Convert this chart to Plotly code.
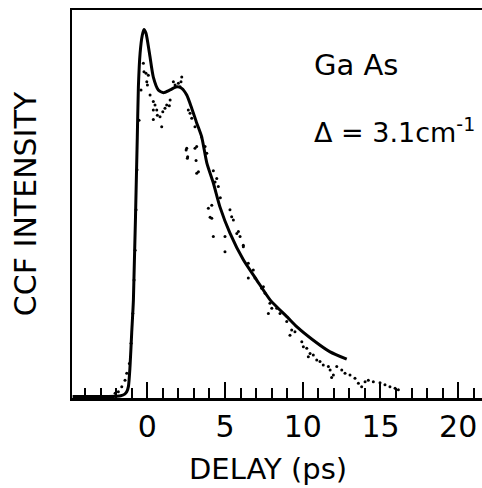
import plotly.graph_objects as go

# Fitted curve (solid line): delay (ps) vs CCF intensity (arb. units, 0..1)
fit_x = [-4.8, -2.5, -1.7, -1.45, -1.32, -1.21, -1.11, -1.0, -0.89, -0.64, -0.57, -0.46, -0.32,
         -0.21, -0.08, 0.14, 0.39, 0.71, 1.04, 1.47, 1.90, 2.22, 2.54, 2.86, 3.18, 3.50,
         3.83, 4.25, 4.68, 5.32, 6.18, 7.04, 7.90, 9.07, 9.61, 10.68, 11.76, 12.83]
fit_y = [0.004, 0.004, 0.006, 0.010, 0.016, 0.030, 0.080, 0.168, 0.253, 0.673, 0.802, 0.889, 0.935,
         0.950, 0.940, 0.889, 0.827, 0.794, 0.787, 0.794, 0.802, 0.798, 0.781, 0.747, 0.709, 0.673,
         0.606, 0.554, 0.492, 0.425, 0.356, 0.304, 0.253, 0.206, 0.184, 0.149, 0.119, 0.100]

# Measured points (dots)
dots_x = [-2.07, -1.86, -1.64, -1.43, -1.32, -1.15, -1.04, -0.93, -0.85, -0.78, -0.72, -0.66,
          -0.53, -0.40, -0.25, -0.21, -0.08, 0.07, -0.03, 0.01, 0.18, 0.39, 0.50, 0.39, 0.61,
          0.65, 0.39, 0.82, 1.00, 1.14, 1.25, 1.42, 1.47, 0.93, 1.68, 1.79, 2.00, 2.22, 2.17,
          2.11, 2.64, 2.86, 3.07, 2.54, 3.18, 2.60, 2.50, 2.58, 3.07, 3.14, 3.18, 3.29, 4.25,
          4.47, 4.36, 4.70, 3.93, 4.15, 5.32, 5.43, 4.04, 2.75, 3.50, 3.72, 3.83, 4.57, 5.54,
          5.86, 5.97, 6.18, 5.76, 6.50, 6.82, 6.50, 6.93, 7.36, 7.58, 7.89, 8.01, 8.33, 8.54,
          4.25, 5.00, 5.00, 6.18, 7.47, 7.79, 4.15, 8.97, 9.29, 9.18, 9.50, 9.94, 10.04, 10.26,
          10.47, 10.36, 10.68, 10.90, 11.11, 11.32, 11.65, 11.76, 11.97, 11.86, 12.19, 12.51,
          12.72, 13.04, 13.36, 13.58, 13.79, 14.01, 14.22, 14.54, 14.97, 15.29, 15.61, 15.94,
          16.15]
dots_y = [0.012, 0.016, 0.029, 0.046, 0.064, 0.089, 0.141, 0.218, 0.304, 0.381, 0.485, 0.588,
          0.716, 0.794, 0.863, 0.841, 0.837, 0.832, 0.815, 0.807, 0.781, 0.764, 0.755, 0.742,
          0.742, 0.729, 0.718, 0.725, 0.738, 0.747, 0.755, 0.753, 0.768, 0.699, 0.815, 0.807,
          0.811, 0.827, 0.815, 0.802, 0.742, 0.721, 0.699, 0.644, 0.648, 0.622, 0.639, 0.618,
          0.644, 0.612, 0.579, 0.583, 0.586, 0.566, 0.557, 0.516, 0.489, 0.497, 0.485, 0.467,
          0.466, 0.734, 0.673, 0.648, 0.631, 0.545, 0.459, 0.429, 0.416, 0.394, 0.424, 0.347,
          0.330, 0.309, 0.309, 0.283, 0.270, 0.244, 0.231, 0.231, 0.218, 0.416, 0.416, 0.377,
          0.390, 0.287, 0.218, 0.463, 0.197, 0.175, 0.162, 0.171, 0.145, 0.132, 0.128, 0.115,
          0.106, 0.111, 0.098, 0.094, 0.085, 0.081, 0.072, 0.059, 0.053, 0.081, 0.072, 0.064,
          0.059, 0.051, 0.038, 0.029, 0.042, 0.046, 0.042, 0.039, 0.034, 0.029, 0.025, 0.021]

x_tick_vals = [0, 5, 10, 15, 20]
x_tick_text = ["0", "5", "10", "15", "20"]

FONT = "DejaVu Sans"

fig = go.Figure()
fig.add_trace(go.Scatter(x=dots_x, y=dots_y, mode="markers",
                         marker=dict(color="black", size=3), hoverinfo="skip"))
fig.add_trace(go.Scatter(x=fit_x, y=fit_y, mode="lines",
                         line=dict(color="black", width=3, shape="spline", smoothing=0.6),
                         hoverinfo="skip"))

fig.update_layout(
    width=482, height=488,
    margin=dict(l=72, r=0, t=10, b=90),
    paper_bgcolor="white", plot_bgcolor="white",
    showlegend=False,
    font=dict(family=FONT, color="black"),
    xaxis=dict(
        range=[-4.84, 21.53], showgrid=False, zeroline=False, automargin=False,
        showline=True, linecolor="black", linewidth=2.5, mirror=True,
        ticks="inside", ticklen=16, tickwidth=2, tickcolor="black",
        tickvals=x_tick_vals, ticktext=x_tick_text,
        tickfont=dict(size=30, family=FONT),
        minor=dict(dtick=1, tick0=0, ticks="inside", ticklen=10, tickwidth=2, tickcolor="black"),
    ),
    yaxis=dict(
        range=[0, 1], showgrid=False, zeroline=False, automargin=False,
        showline=True, linecolor="black", linewidth=2.5, mirror=False,
        ticks="", showticklabels=False,
        title=dict(text="CCF INTENSITY", font=dict(size=30, family=FONT), standoff=24),
    ),
    annotations=[
        dict(text="DELAY (ps)", xref="paper", yref="paper", x=0.477, y=-0.183,
             xanchor="center", yanchor="middle", showarrow=False,
             font=dict(size=29, family=FONT, color="black")),
        dict(text="Ga As", xref="paper", yref="paper", x=0.585, y=0.858,
             xanchor="left", yanchor="middle", showarrow=False,
             font=dict(size=29, family=FONT, color="black")),
        dict(text="Δ = 3.1cm<sup>-1</sup>", xref="paper", yref="paper", x=0.585, y=0.69,
             xanchor="left", yanchor="middle", showarrow=False,
             font=dict(size=27, family=FONT, color="black")),
    ],
)

fig.write_html(
    "out.html",
    config={"displayModeBar": False, "staticPlot": True},
    post_script="document.body.style.margin='0';document.body.style.overflow='hidden';",
)
